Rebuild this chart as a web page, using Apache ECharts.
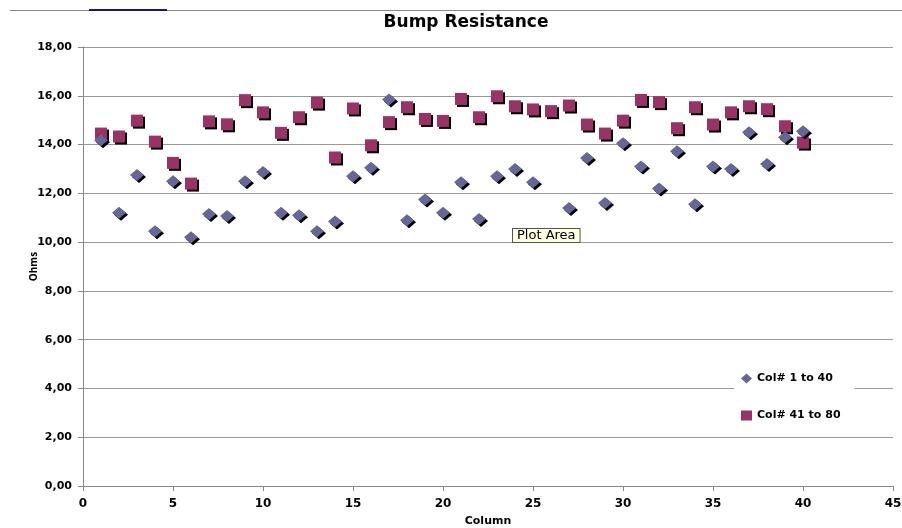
<!DOCTYPE html>
<html>
<head>
<meta charset="utf-8">
<script src="https://cdn.jsdelivr.net/npm/echarts@6/dist/echarts.min.js"></script>
<style>
html,body{margin:0;padding:0;background:#fff;}
#chart{width:902px;height:528px;}
</style>
</head>
<body>
<div id="chart"></div>
<script>
var columns = [1,2,3,4,5,6,7,8,9,10,11,12,13,14,15,16,17,18,19,20,21,22,23,24,25,26,27,28,29,30,31,32,33,34,35,36,37,38,39,40];
var col1to40 = [14.18,11.2,12.75,10.45,12.5,10.2,11.15,11.07,12.5,12.87,11.2,11.1,10.45,10.85,12.7,13.05,15.85,10.9,11.75,11.2,12.45,10.95,12.7,13.0,12.45,null,11.4,13.45,11.6,14.05,13.1,12.2,13.73,11.55,13.1,13.0,14.5,13.2,14.3,14.55];
var col41to80 = [14.45,14.33,14.98,14.12,13.25,12.4,14.95,14.83,15.82,15.32,14.48,15.12,15.72,13.47,15.48,13.97,14.92,15.53,15.05,14.97,15.87,15.12,15.98,15.57,15.44,15.37,15.6,14.82,14.45,14.98,15.83,15.74,14.67,15.53,14.82,15.32,15.57,15.45,14.75,14.08];
var yTicks = ['0,00','2,00','4,00','6,00','8,00','10,00','12,00','14,00','16,00','18,00'];
var xTicks = ['0','5','10','15','20','25','30','35','40','45'];

function pairs(xs, ys){
  var out=[];
  for(var i=0;i<xs.length;i++){ if(ys[i]!==null) out.push([xs[i], ys[i]]); }
  return out;
}

var chart = echarts.init(document.getElementById('chart'), null, {renderer:'canvas'});
var shadow = {opacity:1, shadowColor:'#000', shadowBlur:0, shadowOffsetX:2, shadowOffsetY:2};
chart.setOption({
  animation:false,
  backgroundColor:'#fff',
  title:{
    text:'Bump Resistance',
    left:461, top:9, textAlign:'center',
    textStyle:{fontFamily:'"DejaVu Sans", sans-serif', fontWeight:'bold', fontSize:17, color:'#000'}
  },
  grid:{left:83, right:9, top:47, bottom:42, containLabel:false, outerBoundsMode:'none'},
  xAxis:{
    type:'value', min:0, max:45, interval:5,
    name:'Column', nameLocation:'middle', nameGap:30, nameMoveOverlap:false,
    nameTextStyle:{fontFamily:'"DejaVu Sans", sans-serif', fontWeight:'bold', fontSize:11, color:'#000'},
    axisLine:{show:true, onZero:false, lineStyle:{color:'#888', width:1}},
    axisTick:{show:true, length:5, lineStyle:{color:'#888'}},
    axisLabel:{margin:12, fontFamily:'"DejaVu Sans", sans-serif', fontWeight:'bold', fontSize:12, color:'#000',
      formatter:function(v){ var i=xTicks.indexOf(String(v)); return i>=0?xTicks[i]:''; }},
    splitLine:{show:false}
  },
  yAxis:{
    type:'value', min:0, max:18, interval:2,
    name:'Ohms', nameLocation:'middle', nameGap:44, nameRotate:90, nameMoveOverlap:false,
    nameTextStyle:{fontFamily:'"Open Sans", "DejaVu Sans", sans-serif', fontWeight:'bold', fontSize:10, color:'#000'},
    axisLine:{show:true, lineStyle:{color:'#888', width:1}},
    axisTick:{show:true, length:5, lineStyle:{color:'#888'}},
    axisLabel:{margin:11, fontFamily:'"DejaVu Sans", sans-serif', fontWeight:'bold', fontSize:11, color:'#000',
      formatter:function(v){ return yTicks[Math.round(v/2)]; }},
    splitLine:{show:true, lineStyle:{color:'#999', width:1}}
  },
  legend:{
    orient:'vertical', left:734, top:369,
    backgroundColor:'#fff', padding:[4,14,4,7], itemGap:26,
    itemWidth:11, itemHeight:10,
    itemStyle:{shadowColor:'rgba(0,0,0,0)', shadowOffsetX:0, shadowOffsetY:0, opacity:1},
    textStyle:{fontFamily:'"DejaVu Sans", sans-serif', fontWeight:'bold', fontSize:11, color:'#000'},
    data:[{name:'Col# 1 to 40', icon:'diamond'},{name:'Col# 41 to 80', icon:'rect'}]
  },
  series:[
    {name:'Col# 1 to 40', type:'scatter', symbol:'diamond', symbolSize:[14,12],
     itemStyle:Object.assign({color:'#666699'}, shadow),
     data:pairs(columns, col1to40), z:3},
    {name:'Col# 41 to 80', type:'scatter', symbol:'rect', symbolSize:[12,12],
     itemStyle:Object.assign({color:'#993366'}, shadow),
     data:pairs(columns, col41to80), z:2}
  ],
  graphic:[
    {type:'line', shape:{x1:10, y1:10.5, x2:902, y2:10.5}, style:{stroke:'#888', lineWidth:1}},
    {type:'line', shape:{x1:89, y1:10, x2:167, y2:10}, style:{stroke:'#1a1a66', lineWidth:2}},
    {type:'text', left:512, top:228, z:100,
     style:{text:'Plot Area', fontFamily:'"DejaVu Sans", sans-serif', fontSize:13, fill:'#000',
       backgroundColor:'#ffffe1', borderColor:'#555', borderWidth:1, padding:[0,4,0,4]}}
  ]
});
</script>
</body>
</html>
